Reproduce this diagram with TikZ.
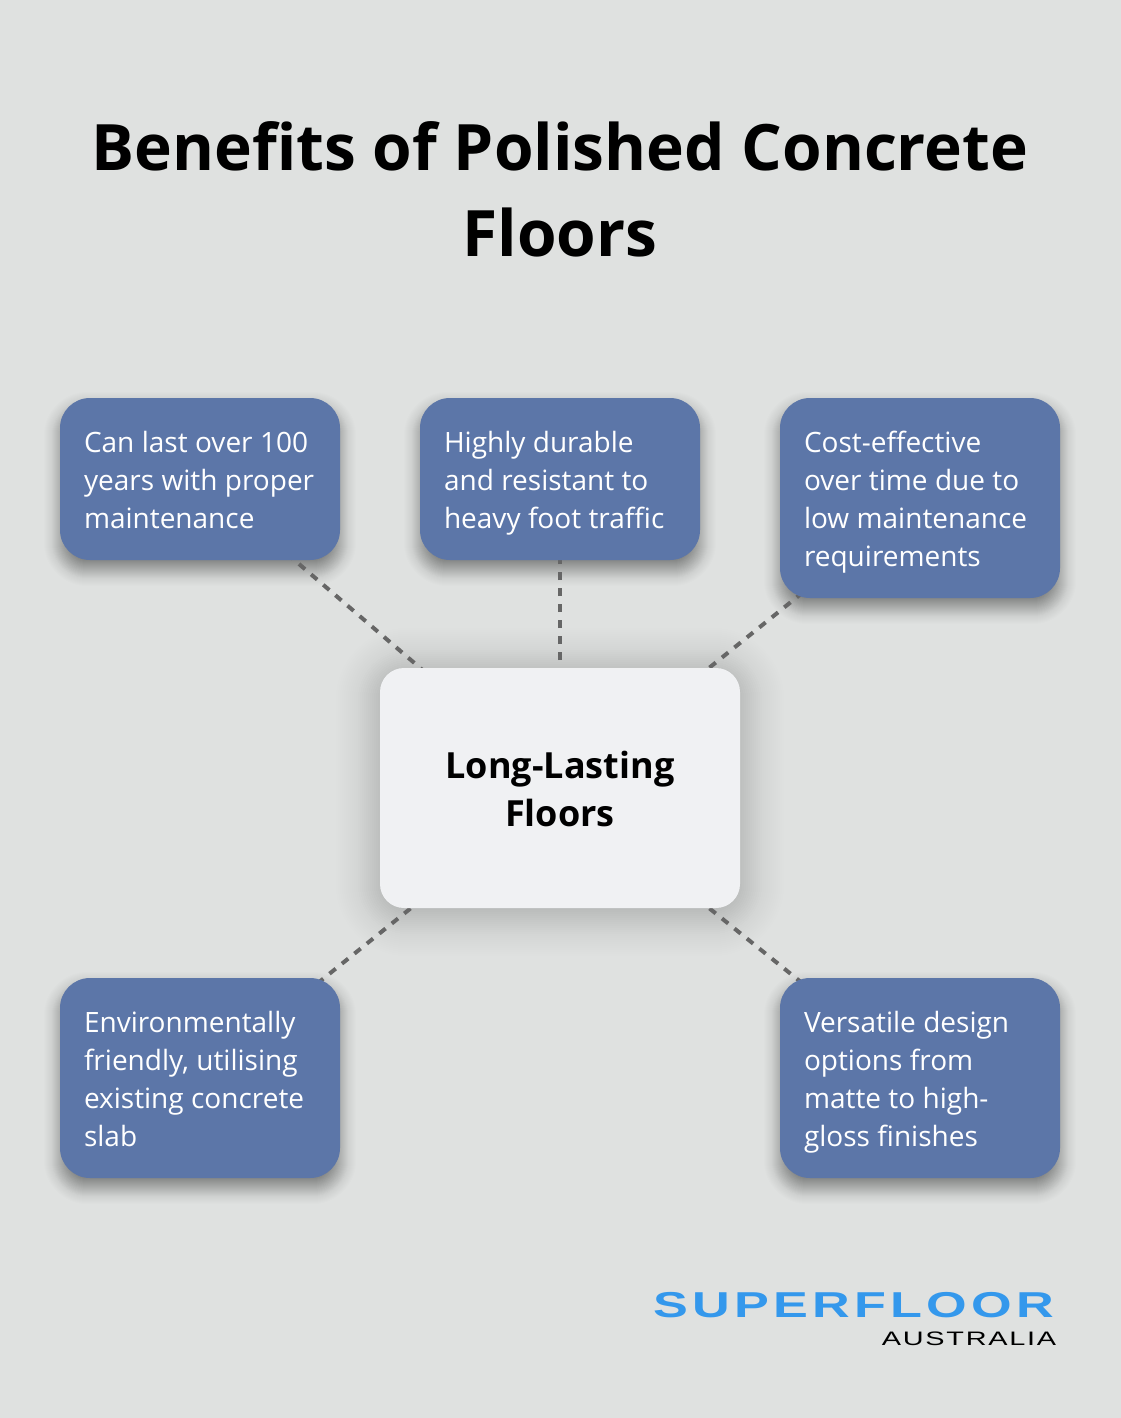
\documentclass[tikz,border=0pt]{standalone}
\usepackage{fontspec}
\setmainfont{Open Sans}
\newfontfamily\logofont[LetterSpace=8]{Liberation Sans}
\newfontfamily\logosub[LetterSpace=6]{Liberation Sans}
\pgfdeclarelayer{shadowlayer}
\pgfdeclarelayer{linklayer}
\pgfsetlayers{shadowlayer,linklayer,main}
\definecolor{pagebg}{HTML}{DFE1E0}
\definecolor{cardblue}{HTML}{5C76A8}
\definecolor{cardlight}{HTML}{F0F1F3}
\definecolor{linkgrey}{HTML}{666666}
\definecolor{logoblue}{HTML}{3498EC}
\newcommand{\cardstrut}{\spaceskip=7.4pt\relax\rule[-8pt]{0pt}{38pt}}
\tikzset{
  bluecard/.style={fill=cardblue,text=white,rounded corners=30pt,inner sep=0pt,align=left,text width=232pt,minimum width=280pt,font=\fontsize{28}{38}\selectfont},
  lightcard/.style={fill=cardlight,text=black,rounded corners=24pt,inner sep=0pt,align=center,font=\bfseries\fontsize{36}{48}\selectfont},
  linkline/.style={draw=linkgrey,line width=4pt,dash pattern=on 8pt off 8pt},
  titletext/.style={font=\bfseries\fontsize{64}{86}\selectfont,align=center,text=black,inner sep=0pt},
}
% node, y offset, first k, second k, last k, opacity of one layer
\newcommand{\softshadow}[6]{%
  \path (#1.north west) coordinate (swA) (#1.south east) coordinate (swB);
  \foreach \k in {#3,#4,...,#5}{
    \pgfmathsetmacro{\rad}{max(2,28+\k)}
    \fill[black,opacity=#6,rounded corners=\rad pt] ([shift={(-\k,-\k+#2)}]swA) rectangle ([shift={(\k,\k+#2)}]swB);
  }
}
\newcommand{\bluehalo}[1]{%
  \softshadow{#1}{10}{-16}{-15}{16}{0.006}
  \softshadow{#1}{10}{-10}{-9}{8}{0.008}
}
\begin{document}
\begin{tikzpicture}[x=1pt,y=-1pt]
\useasboundingbox (0,0) rectangle (1120,1418);
\begin{pgfonlayer}{shadowlayer}
\fill[pagebg] (-3,-3) rectangle (1123,1421);
\end{pgfonlayer}

\node[titletext] (title) at (560,189.5) {Benefits of Polished Concrete\\Floors};

\node[bluecard,minimum height=162pt] (a) at (200,479) {\cardstrut Can last over 100\\\cardstrut years with proper\\\cardstrut maintenance};
\node[bluecard,minimum height=162pt] (b) at (560,479) {\cardstrut Highly durable\\\cardstrut and resistant to\\\cardstrut heavy foot traffic};
\node[bluecard,minimum height=200pt] (c) at (920,498) {\cardstrut Cost-effective\\\cardstrut over time due to\\\cardstrut low maintenance\\\cardstrut requirements};
\node[bluecard,minimum height=200pt] (d) at (200,1078) {\cardstrut Environmentally\\\cardstrut friendly, utilising\\\cardstrut existing concrete\\\cardstrut slab};
\node[bluecard,minimum height=200pt] (e) at (920,1078) {\cardstrut Versatile design\\\cardstrut options from\\\cardstrut matte to high-\\\cardstrut gloss finishes};
\node[lightcard,minimum width=360pt,minimum height=240pt] (m) at (560,788) {\rule[-10pt]{0pt}{48pt}Long-Lasting\\\rule[-10pt]{0pt}{48pt}Floors};

\begin{pgfonlayer}{shadowlayer}
\bluehalo{a}
\bluehalo{b}
\bluehalo{c}
\bluehalo{d}
\bluehalo{e}
\softshadow{m}{4}{-30}{-28}{44}{0.0025}
\softshadow{m}{4}{-20}{-18}{22}{0.004}
\end{pgfonlayer}

\begin{pgfonlayer}{linklayer}
\draw[linkline] (m.center) -- (a.center);
\draw[linkline] (m.center) -- (b.center);
\draw[linkline] (m.center) -- (c.center);
\draw[linkline] (m.center) -- (d.center);
\draw[linkline] (m.center) -- (e.center);
\end{pgfonlayer}

\node[inner sep=0pt,text=logoblue,xscale=1.45,font=\logofont\bfseries\fontsize{36}{36}\selectfont] (logo) at (854,1305.5) {SUPERFLOOR};
\node[inner sep=0pt,text=black,xscale=1.48,font=\logosub\fontsize{19.5}{20}\selectfont] (sub) at (969,1338.5) {AUSTRALIA};
\end{tikzpicture}
\end{document}
